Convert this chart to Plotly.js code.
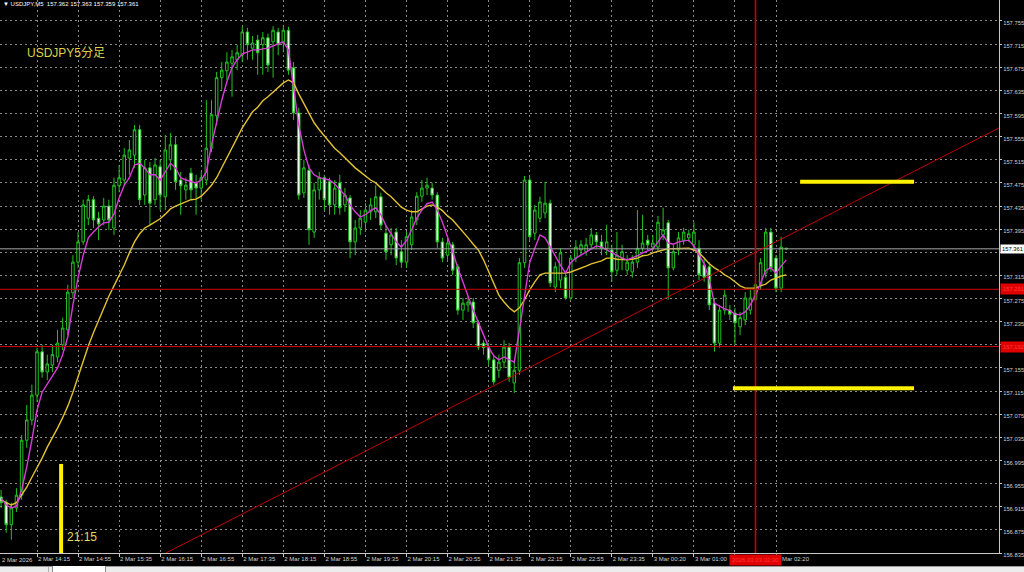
<!DOCTYPE html>
<html>
<head>
<meta charset="utf-8">
<script src="https://cdn.plot.ly/plotly-3.0.1.min.js"></script>
<style>
html,body{margin:0;padding:0;background:#000;width:1024px;height:572px;overflow:hidden}
#chart{position:absolute;left:0;top:0;width:1024px;height:572px}
#tabs{position:absolute;left:0;top:566px;width:1024px;height:6px;background:#ececec;border-top:1px solid #9a9a9a;box-sizing:border-box}
#tabs .t1{position:absolute;left:2px;top:0;width:46px;height:5px;border-right:1px solid #b0b0b0}
#tabs .t2{position:absolute;left:52px;top:-1px;width:52px;height:6px;background:#fff;border:1px solid #8a8a8a;border-top:none}
</style>
</head>
<body>
<div id="chart"></div>
<div id="tabs"><div class="t1"></div><div class="t2"></div></div>
<script>
// ---- time axis (5-minute bars) ----
const day1Times = ["13:40","13:45","13:50","13:55",
"14:00","14:05","14:10","14:15","14:20","14:25","14:30","14:35","14:40","14:45","14:50","14:55",
"15:00","15:05","15:10","15:15","15:20","15:25","15:30","15:35","15:40","15:45","15:50","15:55",
"16:00","16:05","16:10","16:15","16:20","16:25","16:30","16:35","16:40","16:45","16:50","16:55",
"17:00","17:05","17:10","17:15","17:20","17:25","17:30","17:35","17:40","17:45","17:50","17:55",
"18:00","18:05","18:10","18:15","18:20","18:25","18:30","18:35","18:40","18:45","18:50","18:55",
"19:00","19:05","19:10","19:15","19:20","19:25","19:30","19:35","19:40","19:45","19:50","19:55",
"20:00","20:05","20:10","20:15","20:20","20:25","20:30","20:35","20:40","20:45","20:50","20:55",
"21:00","21:05","21:10","21:15","21:20","21:25","21:30","21:35","21:40","21:45","21:50","21:55",
"22:00","22:05","22:10","22:15","22:20","22:25","22:30","22:35","22:40","22:45","22:50","22:55",
"23:00","23:05","23:10","23:15","23:20","23:25","23:30","23:35","23:40","23:45","23:50","23:55"];
const day2Times = ["00:05","00:10","00:15","00:20","00:25","00:30","00:35","00:40","00:45","00:50","00:55",
"01:00","01:05","01:10","01:15","01:20","01:25","01:30","01:35","01:40","01:45","01:50","01:55",
"02:00","02:05","02:10","02:15","02:20","02:25","02:30"];
const times = day1Times.map(t => "2 Mar " + t).concat(day2Times.map(t => "3 Mar " + t));

const tickLabels = ["2 Mar 14:15","2 Mar 14:55","2 Mar 15:35","2 Mar 16:15","2 Mar 16:55","2 Mar 17:35",
"2 Mar 18:15","2 Mar 18:55","2 Mar 19:35","2 Mar 20:15","2 Mar 20:55","2 Mar 21:35","2 Mar 22:15",
"2 Mar 22:55","2 Mar 23:35","3 Mar 00:20","3 Mar 01:00","3 Mar 01:40","3 Mar 02:20"];
// time label covered by the crosshair time box
const hiddenTimeLabels = ["3 Mar 01:40"];

const priceTicks = [156.835,156.875,156.915,156.955,156.995,157.035,157.075,157.115,157.155,157.195,
157.235,157.275,157.315,157.355,157.395,157.435,157.475,157.515,157.555,157.595,157.635,157.675,157.715,157.755];
// price labels covered by the marker boxes on the price scale
const hiddenPriceLabels = [157.195, 157.355];

// ---- OHLC (USDJPY M5) ----
const open = [156.932,156.922,156.884,156.913,156.935,157.030,157.065,157.108,157.183,157.148,
157.160,157.174,157.195,157.221,157.285,157.338,157.373,157.414,157.446,157.414,
157.411,157.435,157.397,157.470,157.480,157.518,157.523,157.567,157.454,157.501,
157.446,157.503,157.451,157.515,157.541,157.480,157.463,157.492,157.475,157.466,
157.480,157.535,157.591,157.657,157.669,157.682,157.688,157.696,157.736,157.708,
157.722,157.714,157.726,157.719,157.736,157.717,157.739,157.674,157.596,157.458,
157.497,157.390,157.463,157.484,157.477,157.437,157.475,157.437,157.449,157.373,
157.397,157.407,157.425,157.425,157.451,157.388,157.368,157.390,157.356,157.338,
157.368,157.411,157.452,157.466,157.466,157.454,157.373,157.350,157.368,157.330,
157.255,157.264,157.269,157.233,157.198,157.190,157.169,157.151,157.165,157.191,
157.129,157.151,157.337,157.480,157.388,157.414,157.423,157.440,157.295,157.307,
157.312,157.276,157.345,157.359,157.356,157.368,157.385,157.373,157.362,157.359,
157.324,157.345,157.324,157.321,157.338,157.362,157.376,157.364,157.364,157.385,
157.406,157.328,157.359,157.376,157.380,157.368,157.362,157.333,157.330,157.267,
157.198,157.255,157.255,157.250,157.226,157.238,157.255,157.273,157.299,157.319,
157.390,157.345,157.293,157.362];
const high = [156.944,156.927,156.922,156.947,157.039,157.091,157.126,157.190,157.195,157.178,
157.195,157.221,157.242,157.299,157.350,157.390,157.446,157.454,157.452,157.425,
157.449,157.446,157.484,157.506,157.535,157.549,157.575,157.575,157.515,157.511,
157.518,157.515,157.558,157.561,157.554,157.494,157.484,157.501,157.489,157.494,
157.618,157.618,157.667,157.684,157.701,157.705,157.714,157.745,157.743,157.729,
157.731,157.736,157.733,157.746,157.743,157.746,157.745,157.684,157.605,157.515,
157.506,157.475,157.494,157.489,157.484,157.480,157.489,157.466,157.454,157.411,
157.428,157.440,157.449,157.471,157.458,157.402,157.397,157.397,157.376,157.390,
157.428,157.459,157.480,157.484,157.475,157.459,157.380,157.380,157.373,157.335,
157.276,157.279,157.276,157.238,157.203,157.198,157.178,157.178,157.203,157.198,
157.165,157.345,157.487,157.487,157.437,157.451,157.477,157.446,157.338,157.362,
157.319,157.350,157.376,157.376,157.380,157.397,157.390,157.385,157.402,157.368,
157.390,157.368,157.350,157.350,157.428,157.420,157.385,157.385,157.418,157.432,
157.411,157.368,157.390,157.397,157.394,157.407,157.376,157.345,157.338,157.276,
157.264,157.290,157.264,157.259,157.252,157.286,157.290,157.307,157.345,157.397,
157.397,157.350,157.382,157.363];
const low = [156.913,156.870,156.858,156.906,156.927,157.017,157.056,157.096,157.138,157.134,
157.148,157.165,157.186,157.212,157.276,157.328,157.368,157.402,157.397,157.376,
157.402,157.394,157.385,157.459,157.471,157.489,157.501,157.437,157.437,157.402,
157.437,157.428,157.428,157.497,157.463,157.420,157.446,157.446,157.420,157.446,
157.471,157.528,157.575,157.636,157.653,157.624,157.670,157.684,157.688,157.688,
157.662,157.662,157.667,157.657,157.696,157.701,157.662,157.584,157.446,157.449,
157.368,157.380,157.446,157.428,157.420,157.420,157.420,157.425,157.345,157.350,
157.385,157.390,157.411,157.414,157.394,157.342,157.350,157.333,157.328,157.328,
157.359,157.402,157.442,157.454,157.446,157.362,157.338,157.342,157.316,157.247,
157.238,157.252,157.224,157.186,157.178,157.160,157.126,157.138,157.155,157.131,
157.112,157.143,157.328,157.376,157.376,157.407,157.414,157.295,157.286,157.293,
157.273,157.273,157.338,157.350,157.349,157.362,157.362,157.350,157.350,157.304,
157.316,157.324,157.316,157.311,157.328,157.356,157.359,157.359,157.356,157.376,
157.273,157.324,157.350,157.368,157.373,157.359,157.307,157.304,157.255,157.183,
157.190,157.247,157.238,157.195,157.212,157.229,157.247,157.264,157.290,157.311,
157.321,157.286,157.286,157.359];
const close = [156.922,156.884,156.913,156.935,157.030,157.065,157.108,157.183,157.148,157.162,
157.178,157.198,157.224,157.286,157.338,157.373,157.437,157.446,157.411,157.404,
157.435,157.411,157.471,157.484,157.523,157.532,157.567,157.446,157.501,157.440,
157.506,157.454,157.532,157.541,157.477,157.470,157.471,157.463,157.466,157.484,
157.535,157.593,157.657,157.670,157.684,157.693,157.700,157.736,157.714,157.717,
157.700,157.726,157.679,157.739,157.714,157.739,157.670,157.596,157.454,157.501,
157.394,157.463,157.484,157.446,157.437,157.466,157.432,157.454,157.373,157.397,
157.414,157.428,157.437,157.451,157.402,157.356,157.385,157.345,157.338,157.382,
157.416,157.452,157.466,157.471,157.454,157.373,157.345,157.371,157.324,157.255,
157.267,157.269,157.233,157.191,157.190,157.169,157.131,157.165,157.191,157.139,
157.151,157.337,157.480,157.382,157.428,157.442,157.440,157.302,157.330,157.354,
157.276,157.345,157.364,157.368,157.368,157.385,157.373,157.362,157.373,157.321,
157.350,157.356,157.338,157.338,157.362,157.371,157.368,157.371,157.407,157.394,
157.328,157.356,157.380,157.390,157.387,157.390,157.316,157.312,157.264,157.198,
157.255,157.281,157.248,157.233,157.242,157.276,157.276,157.299,157.337,157.390,
157.328,157.293,157.364,157.361];

// ---- moving averages as drawn on the chart ----
const maFast = [156.930,156.918,156.913,156.916,156.944,156.984,157.030,157.082,157.113,157.127,
157.139,157.155,157.178,157.209,157.264,157.311,157.350,157.380,157.390,157.399,
157.406,157.407,157.421,157.449,157.471,157.484,157.506,157.509,157.501,157.489,
157.489,157.480,157.494,157.509,157.501,157.484,157.480,157.477,157.475,157.480,
157.494,157.541,157.580,157.618,157.650,157.674,157.688,157.698,157.701,157.705,
157.705,157.707,157.708,157.712,157.715,157.719,157.705,157.639,157.575,157.532,
157.501,157.489,157.484,157.482,157.480,157.473,157.464,157.454,157.437,157.425,
157.416,157.420,157.427,157.432,157.420,157.401,157.387,157.373,157.364,157.375,
157.394,157.414,157.428,157.439,157.442,157.428,157.407,157.383,157.356,157.328,
157.302,157.279,157.255,157.233,157.212,157.191,157.176,157.169,157.174,157.169,
157.165,157.221,157.281,157.337,157.362,157.385,157.380,157.364,157.349,157.333,
157.319,157.337,157.345,157.350,157.356,157.361,157.366,157.364,157.359,157.354,
157.349,157.345,157.342,157.345,157.349,157.354,157.357,157.361,157.373,157.385,
157.371,157.369,157.373,157.375,157.376,157.366,157.350,157.335,157.307,157.267,
157.262,157.257,157.254,157.248,157.247,157.252,157.264,157.281,157.302,157.324,
157.328,157.319,157.331,157.342];
const maSlow = [156.927,156.922,156.918,156.922,156.935,156.949,156.966,156.982,156.999,157.018,
157.034,157.051,157.069,157.089,157.113,157.141,157.167,157.193,157.216,157.238,
157.259,157.279,157.297,157.314,157.333,157.354,157.373,157.387,157.397,157.402,
157.407,157.413,157.421,157.430,157.435,157.439,157.442,157.446,157.447,157.452,
157.461,157.471,157.484,157.501,157.520,157.537,157.552,157.570,157.584,157.598,
157.606,157.617,157.624,157.632,157.639,157.648,157.653,157.648,157.629,157.612,
157.596,157.579,157.567,157.556,157.546,157.535,157.527,157.518,157.509,157.501,
157.494,157.487,157.480,157.475,157.466,157.458,157.451,157.442,157.433,157.428,
157.425,157.425,157.430,157.435,157.437,157.433,157.427,157.418,157.411,157.401,
157.390,157.380,157.369,157.359,157.342,157.321,157.300,157.281,157.269,157.259,
157.252,157.259,157.273,157.290,157.304,157.316,157.319,157.319,157.319,157.319,
157.319,157.321,157.324,157.328,157.331,157.335,157.337,157.340,157.345,157.345,
157.343,157.342,157.342,157.343,157.345,157.349,157.350,157.354,157.357,157.359,
157.361,157.361,157.362,157.362,157.362,157.359,157.354,157.345,157.335,157.328,
157.323,157.316,157.311,157.304,157.297,157.293,157.293,157.293,157.297,157.300,
157.307,157.311,157.314,157.316];

// ---- drawn objects ----
const bidPrice = 157.361;
const headerText = "▼ USDJPY,M5  157.362 157.363 157.359 157.361";
const levelPrices = [157.291, 157.192];
const trendIdx = [32.1, 194.45];
const trendPrice = [156.835, 157.570];
const upperZoneIdx = [155.7, 177.9];
const upperZonePrice = 157.477;
const lowerZoneIdx = [142.6, 177.9];
const lowerZonePrice = 157.120;
const markerIdx = 11.7;
const markerPrice = [156.835, 156.989];
const crossTime = "3 Mar 02:00";
const crossLabel = "2026.03.03 02:00";

const crossIdx = times.indexOf(crossTime);
const priceTickText = priceTicks.map(p => hiddenPriceLabels.includes(p) ? "" : p.toFixed(3));
const timeTickText = tickLabels.map(t => hiddenTimeLabels.includes(t) ? "" : t);
const FONT = "Liberation Sans, Arial, sans-serif";
const RED = "#d00000";

const traces = [
  {
    type: "candlestick", x: times, open: open, high: high, low: low, close: close,
    increasing: {line: {color: "#23c323", width: 1}, fillcolor: "#000000"},
    decreasing: {line: {color: "#23c323", width: 1}, fillcolor: "#eaffea"},
    whiskerwidth: 0, hoverinfo: "skip", showlegend: false
  },
  {type: "scatter", mode: "lines", x: times, y: maSlow, line: {color: "#e2c232", width: 1.4}, hoverinfo: "skip"},
  {type: "scatter", mode: "lines", x: times, y: maFast, line: {color: "#d83cd8", width: 1.4}, hoverinfo: "skip"}
];

const shapes = [
  {type: "line", xref: "paper", yref: "y", x0: 0, x1: 1, y0: bidPrice, y1: bidPrice, line: {color: "#a8a8a8", width: 1}},
  {type: "line", xref: "paper", yref: "y", x0: 0, x1: 1, y0: levelPrices[0], y1: levelPrices[0], line: {color: RED, width: 1}},
  {type: "line", xref: "paper", yref: "y", x0: 0, x1: 1, y0: levelPrices[1], y1: levelPrices[1], line: {color: RED, width: 1}},
  {type: "line", xref: "x", yref: "paper", x0: crossIdx, x1: crossIdx, y0: 0, y1: 1, line: {color: "#c80000", width: 1.6}},
  {type: "line", xref: "x", yref: "y", x0: trendIdx[0], x1: trendIdx[1], y0: trendPrice[0], y1: trendPrice[1], line: {color: "#c00000", width: 1}},
  {type: "line", xref: "x", yref: "y", x0: upperZoneIdx[0], x1: upperZoneIdx[1], y0: upperZonePrice, y1: upperZonePrice, line: {color: "#fff200", width: 4}},
  {type: "line", xref: "x", yref: "y", x0: lowerZoneIdx[0], x1: lowerZoneIdx[1], y0: lowerZonePrice, y1: lowerZonePrice, line: {color: "#fff200", width: 4}},
  {type: "line", xref: "x", yref: "y", x0: markerIdx, x1: markerIdx, y0: markerPrice[0], y1: markerPrice[1], line: {color: "#fff200", width: 4}}
];

const annotations = [
  {xref: "paper", yref: "paper", x: 0, y: 1, xanchor: "left", yanchor: "top", xshift: 1, yshift: 1,
   text: headerText, showarrow: false, font: {family: FONT, size: 6, color: "#ffffff"}},
  {xref: "paper", yref: "paper", x: 0.025, y: 0.904, xanchor: "left", yanchor: "middle",
   text: "USDJPY5分足", showarrow: false, font: {family: "Liberation Sans, Noto Sans CJK JP, sans-serif", size: 12, color: "#dcd24c"}},
  {xref: "paper", yref: "paper", x: 0.065, y: 0.029, xanchor: "left", yanchor: "middle",
   text: "21:15", showarrow: false, font: {family: FONT, size: 12, color: "#e2da66"}},
  {xref: "paper", yref: "y", x: 1, y: bidPrice, xanchor: "left", yanchor: "middle", xshift: 1,
   text: bidPrice.toFixed(3), showarrow: false, bgcolor: "#ffffff", borderpad: 1,
   font: {family: FONT, size: 5.8, color: "#000000"}},
  {xref: "paper", yref: "y", x: 1, y: levelPrices[0], xanchor: "left", yanchor: "middle", xshift: 1,
   text: levelPrices[0].toFixed(3), showarrow: false, bgcolor: "#e00000", borderpad: 2,
   font: {family: FONT, size: 5.8, color: "#ff3a3a"}},
  {xref: "paper", yref: "y", x: 1, y: levelPrices[1], xanchor: "left", yanchor: "middle", xshift: 1,
   text: levelPrices[1].toFixed(3), showarrow: false, bgcolor: "#e00000", borderpad: 2,
   font: {family: FONT, size: 5.8, color: "#ff3a3a"}},
  {xref: "x", yref: "paper", x: crossIdx, y: 0, xanchor: "center", yanchor: "top", yshift: -1,
   text: crossLabel, showarrow: false, bgcolor: "#e00000", borderpad: 2,
   font: {family: FONT, size: 6, color: "#ff3a3a"}},
  {xref: "paper", yref: "paper", x: 0, y: 0, xanchor: "left", yanchor: "top", xshift: 0, yshift: -2,
   text: "2 Mar 2026", showarrow: false, font: {family: FONT, size: 6, color: "#d0d0d0"}}
];

const layout = {
  width: 1024, height: 572,
  margin: {l: 0, r: 25, t: 0, b: 19, pad: 0},
  paper_bgcolor: "#000000", plot_bgcolor: "#000000",
  showlegend: false, hovermode: false,
  xaxis: {
    type: "category", range: [-0.21, 194.45], rangeslider: {visible: false},
    tickmode: "array", tickvals: tickLabels, ticktext: timeTickText, tickangle: 0, automargin: false,
    ticks: "outside", ticklen: 3, tickcolor: "#c8c8c8", ticklabelposition: "outside right", ticklabelstandoff: 0,
    tickfont: {family: FONT, size: 6, color: "#d0d0d0"},
    showgrid: true, gridcolor: "#8a8a8a", gridwidth: 1, griddash: "2px,3px",
    showline: true, linecolor: "#c8c8c8", linewidth: 1, mirror: true, zeroline: false, fixedrange: true
  },
  yaxis: {
    side: "right", range: [156.835, 157.7913], automargin: false,
    tickmode: "array", tickvals: priceTicks, ticktext: priceTickText,
    ticks: "outside", ticklen: 2, tickcolor: "#c8c8c8", ticklabelshift: 2, ticklabelstandoff: 0,
    tickfont: {family: FONT, size: 5.8, color: "#d0d0d0"},
    showgrid: true, gridcolor: "#8a8a8a", gridwidth: 1, griddash: "2px,3px",
    showline: true, linecolor: "#c8c8c8", linewidth: 1, mirror: true, zeroline: false, fixedrange: true
  },
  shapes: shapes,
  annotations: annotations
};

Plotly.newPlot("chart", traces, layout, {displayModeBar: false, staticPlot: true});
</script>
</body>
</html>
